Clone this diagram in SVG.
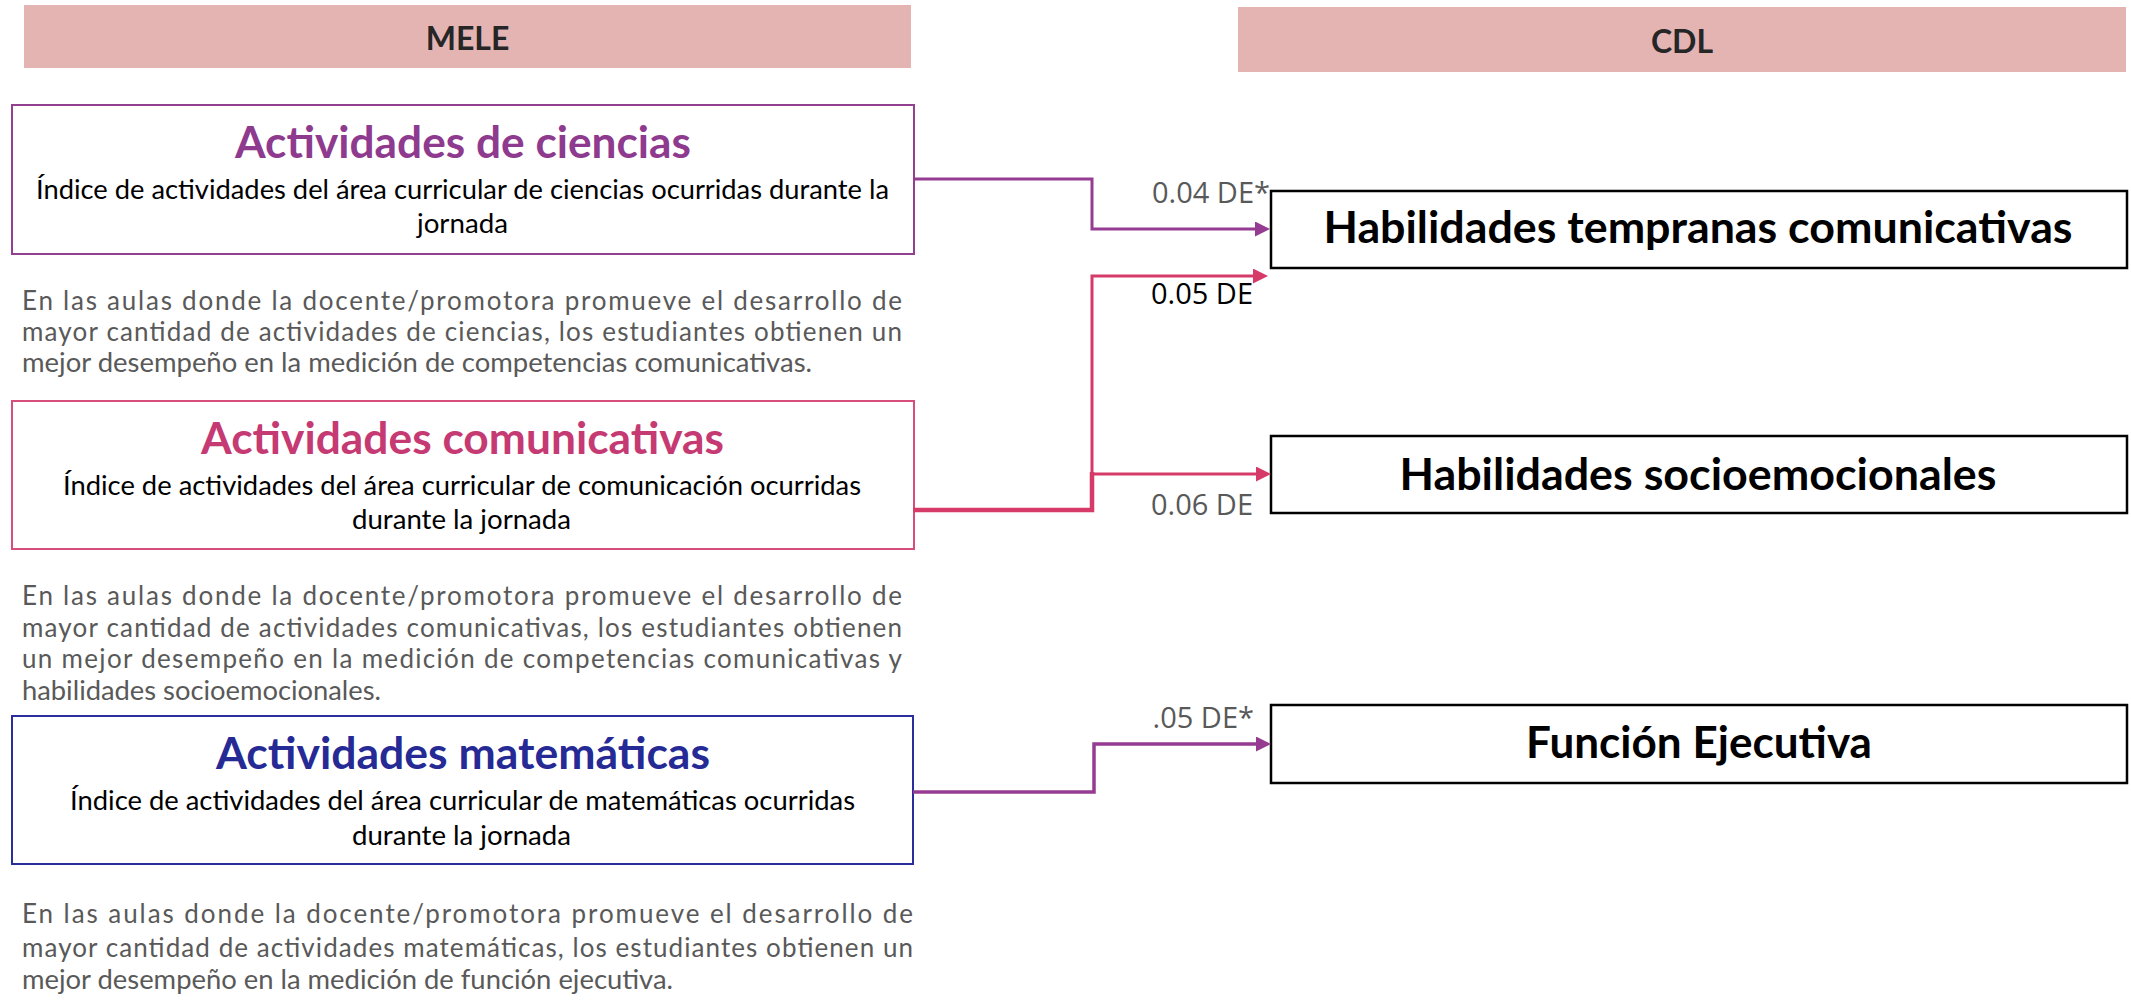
<svg xmlns="http://www.w3.org/2000/svg" width="2131" height="1001" viewBox="0 0 2131 1001">
<style>
 .hdr{fill:#E4B4B3}
 .hdrt{font-family:Lato,"Open Sans",sans-serif;font-weight:700;font-size:32px;fill:#262626;text-anchor:middle}
 .box{fill:#fff;stroke-width:2}
 .ttl{font-family:Lato,"Open Sans",sans-serif;font-weight:700;font-size:43px;text-anchor:middle}
 .sub{font-family:Lato,"Open Sans",sans-serif;font-size:26.5px;fill:#000;text-anchor:middle}
 .par{font-family:Lato,"Open Sans",sans-serif;font-size:26px;fill:#595959}
 .out{fill:#fff;stroke:#000;stroke-width:2.5}
 .outt{font-family:Lato,"Open Sans",sans-serif;font-weight:700;font-size:43px;fill:#000;text-anchor:middle}
 .lbl{font-family:"Open Sans",sans-serif;font-size:29px;fill:#595959;text-anchor:end}
 .c{fill:none}
 .pu{stroke:#953B91}
 .pk{stroke:#D63A69}
</style>
<defs>
 <marker id="arPu" markerUnits="userSpaceOnUse" markerWidth="15" markerHeight="15" refX="0" refY="7.5" orient="auto">
  <path d="M0,0 L15,7.5 L0,15 z" fill="#953B91"/>
 </marker>
 <marker id="arPk" markerUnits="userSpaceOnUse" markerWidth="15" markerHeight="15" refX="0" refY="7.5" orient="auto">
  <path d="M0,0 L15,7.5 L0,15 z" fill="#D63A69"/>
 </marker>
</defs>
<rect width="2131" height="1001" fill="#fff"/>

<g id="header-mele">
 <rect class="hdr" x="24" y="5" width="887" height="63"/>
 <text class="hdrt" x="467.5" y="50">MELE</text>
</g>
<g id="header-cdl">
 <rect class="hdr" x="1238" y="7" width="888" height="65"/>
 <text class="hdrt" x="1682" y="53">CDL</text>
</g>

<g id="node-ciencias">
 <rect class="box" x="12" y="105" width="902" height="149" stroke="#93408F"/>
 <text class="ttl" x="463" y="158" fill="#8E3A8E" textLength="456" lengthAdjust="spacingAndGlyphs">Actividades de ciencias</text>
 <text class="sub" x="462.5" y="199" textLength="853" lengthAdjust="spacingAndGlyphs">Índice de actividades del área curricular de ciencias ocurridas durante la</text>
 <text class="sub" x="462.5" y="233" textLength="91" lengthAdjust="spacingAndGlyphs">jornada</text>
</g>
<g id="text-ciencias">
 <text class="par" x="22" y="310" textLength="880" lengthAdjust="spacing">En las aulas donde la docente/promotora promueve el desarrollo de</text>
 <text class="par" x="22" y="341" textLength="880" lengthAdjust="spacing">mayor cantidad de actividades de ciencias, los estudiantes obtienen un</text>
 <text class="par" x="22" y="372" textLength="790" lengthAdjust="spacingAndGlyphs">mejor desempeño en la medición de competencias comunicativas.</text>
</g>

<g id="node-comunicativas">
 <rect class="box" x="12" y="401" width="902" height="148" stroke="#D84D7B"/>
 <text class="ttl" x="462.5" y="454" fill="#C53A72" textLength="523" lengthAdjust="spacingAndGlyphs">Actividades comunicativas</text>
 <text class="sub" x="462" y="495" textLength="798" lengthAdjust="spacingAndGlyphs">Índice de actividades del área curricular de comunicación ocurridas</text>
 <text class="sub" x="461.5" y="529" textLength="219" lengthAdjust="spacingAndGlyphs">durante la jornada</text>
</g>
<g id="text-comunicativas">
 <text class="par" x="22" y="605" textLength="880" lengthAdjust="spacing">En las aulas donde la docente/promotora promueve el desarrollo de</text>
 <text class="par" x="22" y="637" textLength="880" lengthAdjust="spacing">mayor cantidad de actividades comunicativas, los estudiantes obtienen</text>
 <text class="par" x="22" y="668" textLength="880" lengthAdjust="spacing">un mejor desempeño en la medición de competencias comunicativas y</text>
 <text class="par" x="22" y="700" textLength="359" lengthAdjust="spacingAndGlyphs">habilidades socioemocionales.</text>
</g>

<g id="node-matematicas">
 <rect class="box" x="12" y="716" width="901" height="148" stroke="#2A2E9A"/>
 <text class="ttl" x="463" y="769" fill="#252A95" textLength="494" lengthAdjust="spacingAndGlyphs">Actividades matemáticas</text>
 <text class="sub" x="462.5" y="810" textLength="785" lengthAdjust="spacingAndGlyphs">Índice de actividades del área curricular de matemáticas ocurridas</text>
 <text class="sub" x="461.5" y="845" textLength="219" lengthAdjust="spacingAndGlyphs">durante la jornada</text>
</g>
<g id="text-matematicas">
 <text class="par" x="22" y="923" textLength="891" lengthAdjust="spacing">En las aulas donde la docente/promotora promueve el desarrollo de</text>
 <text class="par" x="22" y="957" textLength="891" lengthAdjust="spacing">mayor cantidad de actividades matemáticas, los estudiantes obtienen un</text>
 <text class="par" x="22" y="989" textLength="651" lengthAdjust="spacingAndGlyphs">mejor desempeño en la medición de función ejecutiva.</text>
</g>

<g id="node-htc">
 <rect class="out" x="1271" y="191" width="856" height="77"/>
 <text class="outt" x="1698" y="243" textLength="749" lengthAdjust="spacingAndGlyphs">Habilidades tempranas comunicativas</text>
</g>
<g id="node-socio">
 <rect class="out" x="1271" y="436" width="856" height="77"/>
 <text class="outt" x="1698" y="490" textLength="597" lengthAdjust="spacingAndGlyphs">Habilidades socioemocionales</text>
</g>
<g id="node-fe">
 <rect class="out" x="1271" y="705" width="856" height="78"/>
 <text class="outt" x="1699" y="758" textLength="346" lengthAdjust="spacingAndGlyphs">Función Ejecutiva</text>
</g>

<g id="connectors">
 <path class="c pu" d="M913 179 H1092 V229 H1255" stroke-width="3" marker-end="url(#arPu)"/>
 <path class="c pk" d="M913 510 H1092 V472" stroke-width="4.5"/>
 <path class="c pk" d="M1092 476 V276 H1253" stroke-width="3" marker-end="url(#arPk)"/>
 <path class="c pk" d="M1092 474 H1256" stroke-width="3" marker-end="url(#arPk)"/>
 <path class="c pu" d="M913 792 H1094 V744 H1256" stroke-width="3.5" marker-end="url(#arPu)"/>
 <text class="lbl" x="1270" y="203">0.04 DE*</text>
 <text class="lbl" x="1253" y="304" style="fill:#000">0.05 DE</text>
 <text class="lbl" x="1253" y="515">0.06 DE</text>
 <text class="lbl" x="1254" y="728">.05 DE*</text>
</g>
</svg>
